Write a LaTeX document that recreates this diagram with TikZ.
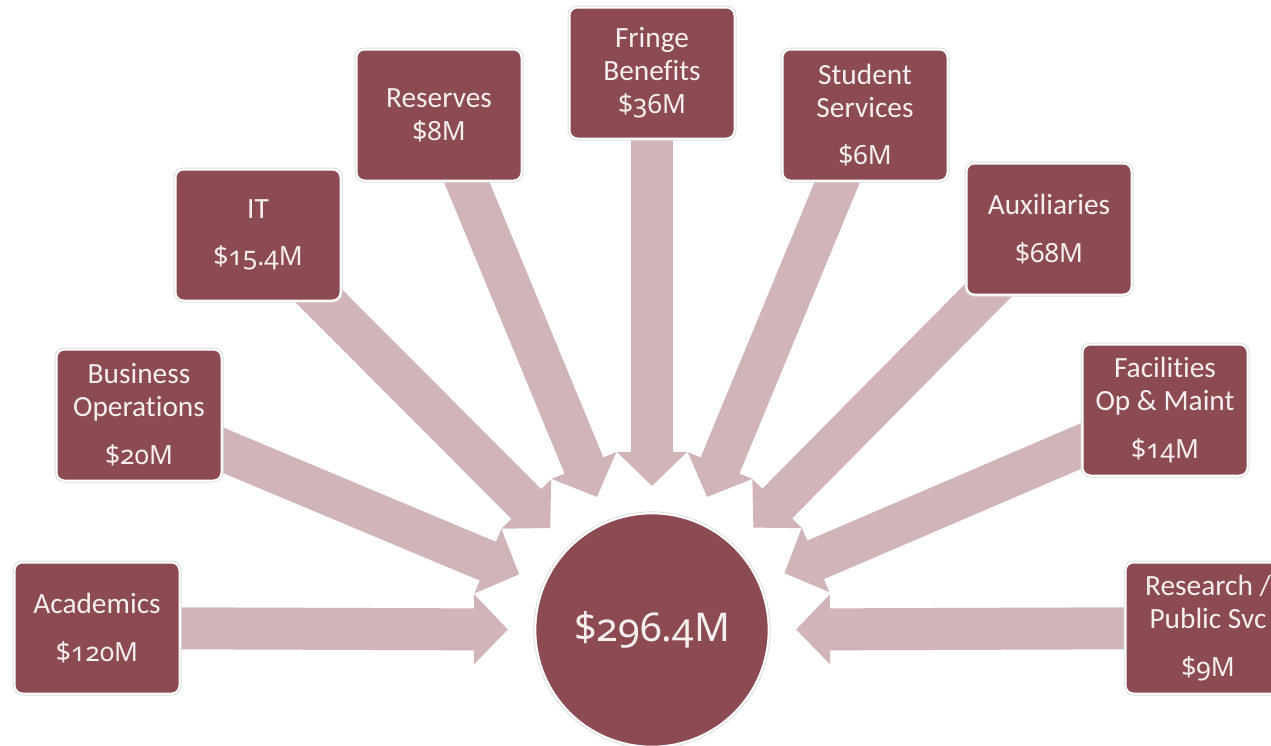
\documentclass[tikz,border=0pt]{standalone}
\usepackage{fontspec}
\setmainfont{Carlito}[Ligatures=NoCommon]
\newfontfamily\valfont{Noto Sans}[Numbers=OldStyle,Scale=0.9]
\usetikzlibrary{arrows.meta,backgrounds}
\definecolor{boxred}{HTML}{8C4A53}
\definecolor{flowpink}{HTML}{D1B4B7}
\definecolor{txt}{HTML}{F6EFEF}
\newcommand{\val}[1]{{\valfont #1}}
\tikzset{
  budget/.style={rectangle, rounded corners=6pt, fill=boxred, draw=white, line width=1.5pt,
    preaction={draw=black!12, line width=3pt},
    minimum width=123.75pt, minimum height=98.25pt, inner sep=0pt, align=center,
    text=txt, font=\fontsize{22}{24.75}\selectfont},
  hubstyle/.style={circle, fill=boxred, draw=white, line width=1.5pt,
    preaction={draw=black!12, line width=3pt},
    minimum size=175pt, inner sep=0pt, text=txt, font=\fontsize{33}{38}\selectfont},
  flow/.style={draw=flowpink, line width=31.5pt, line cap=butt,
    -{Triangle[width=51pt,length=25.5pt]}, shorten >=108pt}
}
\begin{document}
\begin{tikzpicture}[x=0.75pt,y=-0.75pt]
\useasboundingbox (0,0) rectangle (1271,746);
\clip (0,0) rectangle (1271,746);
\node[hubstyle] (hub) at (652,630) {\val{\$296.4M}};
\node[budget] (acad) at (97,628) {Academics\\[11pt]\val{\$120M}};
\node[budget] (bus) at (139,415) {Business\\Operations\\[11pt]\val{\$20M}};
\node[budget] (it) at (258,235) {IT\\[11pt]\val{\$15.4M}};
\node[budget] (res) at (439,115) {Reserves\\\val{\$8M}};
\node[budget] (fringe) at (652,73) {Fringe\\Benefits\\\val{\$36M}};
\node[budget] (stud) at (865,115) {Student\\Services\\[11pt]\val{\$6M}};
\node[budget] (aux) at (1049,229) {Auxiliaries\\[11pt]\val{\$68M}};
\node[budget] (fac) at (1165,410) {Facilities\\Op \& Maint\\[11pt]\val{\$14M}};
\node[budget] (rsch) at (1208,628) {Research /\\Public Svc\\[11pt]\val{\$9M}};
\begin{scope}[on background layer]
\fill[white] (0,0) rectangle (1271,746);
\foreach \b in {acad,bus,it,res,fringe,stud,aux,fac,rsch}
  \draw[flow] (\b.center) -- (hub.center);
\end{scope}
\end{tikzpicture}
\end{document}
